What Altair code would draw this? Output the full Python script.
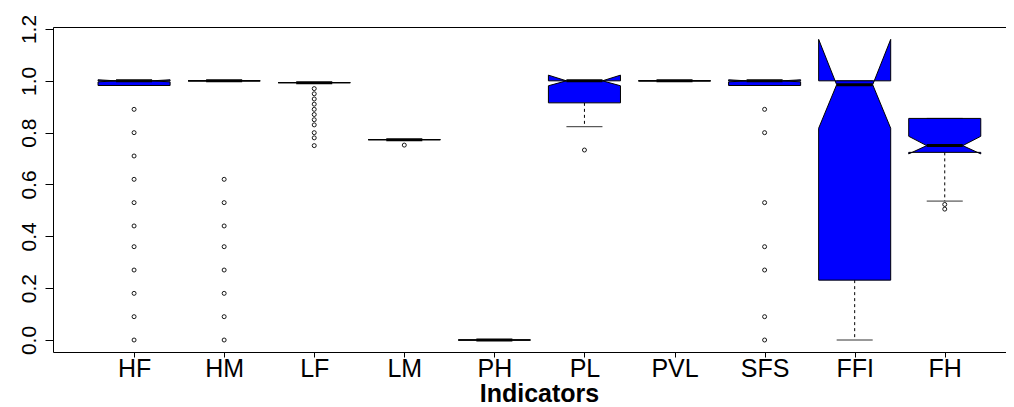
import altair as alt
import pandas as pd

# ---- data ----
names = ["HF", "HM", "LF", "LM", "PH", "PL", "PVL", "SFS", "FFI", "FH"]
q1 = [0.982, 1.0, 0.993, 0.773, 0.0, 0.915, 1.0, 0.982, 0.231, 0.724]
median = [1.0, 1.0, 0.993, 0.773, 0.0, 1.0, 1.0, 1.0, 0.985, 0.75]
q3 = [1.0, 1.0, 0.993, 0.773, 0.0, 1.0, 1.0, 1.0, 1.0, 0.855]
whisk_lo = [0.982, 1.0, 0.993, 0.773, 0.0, 0.823, 1.0, 0.982, 0.0, 0.536]
whisk_hi = [1.0, 1.0, 0.993, 0.773, 0.0, 1.0, 1.0, 1.0, 1.0, 0.855]
notch_lo = [0.996, 1.0, 0.993, 0.773, 0.0, 0.981, 1.0, 0.996, 0.817, 0.718]
notch_hi = [1.004, 1.0, 0.993, 0.773, 0.0, 1.022, 1.0, 1.004, 1.16, 0.786]
outliers = {
    "HF": [0.89, 0.80, 0.71, 0.62, 0.53, 0.44, 0.36, 0.27, 0.18, 0.09, 0.0],
    "HM": [0.62, 0.53, 0.44, 0.36, 0.27, 0.18, 0.09, 0.0],
    "LF": [0.97, 0.95, 0.93, 0.91, 0.89, 0.87, 0.85, 0.83, 0.80, 0.78, 0.75],
    "LM": [0.752],
    "PL": [0.733],
    "SFS": [0.89, 0.80, 0.53, 0.36, 0.27, 0.09, 0.0],
    "FH": [0.523, 0.505],
}
y_ticks = [0.0, 0.2, 0.4, 0.6, 0.8, 1.0, 1.2]

# ---- box geometry (R bxp style) ----
half = 0.4      # half box width
nfrac = 0.5     # notch fraction
staple = 0.2

poly_rows, med_rows, wh_rows, st_rows, out_rows = [], [], [], [], []
for i, n in enumerate(names):
    p = i + 1
    xs = [-1, 1, 1, nfrac, 1, 1, -1, -1, -nfrac, -1, -1]
    ys = [q1[i], q1[i], notch_lo[i], median[i], notch_hi[i], q3[i], q3[i],
          notch_hi[i], median[i], notch_lo[i], q1[i]]
    for k, (a, b) in enumerate(zip(xs, ys)):
        poly_rows.append({"name": n, "k": k, "x": p + half * a, "y": b})
    med_rows.append({"name": n, "xa": p - half * nfrac, "xb": p + half * nfrac, "y": median[i]})
    wh_rows.append({"name": n, "x": p, "y": q1[i], "y2": whisk_lo[i]})
    wh_rows.append({"name": n, "x": p, "y": q3[i], "y2": whisk_hi[i]})
    st_rows.append({"name": n, "xa": p - staple, "xb": p + staple, "y": whisk_lo[i]})
    st_rows.append({"name": n, "xa": p - staple, "xb": p + staple, "y": whisk_hi[i]})
    for v in outliers.get(n, []):
        out_rows.append({"name": n, "x": p, "y": v})

poly = pd.DataFrame(poly_rows)
meds = pd.DataFrame(med_rows)
whs = pd.DataFrame(wh_rows)
sts = pd.DataFrame(st_rows)
outs = pd.DataFrame(out_rows)

xscale = alt.Scale(domain=[0.1, 10.68], nice=False, zero=False)
yscale = alt.Scale(domain=[-0.0463, 1.2077], nice=False, zero=False)

label_expr = "[" + ",".join("'%s'" % n for n in names) + "][datum.value - 1]"
FONT = "Liberation Sans"

x_axis = alt.Axis(
    values=list(range(1, len(names) + 1)), labelExpr=label_expr,
    title="Indicators", titleFont=FONT, titleFontSize=25, titleFontWeight="bold",
    titleColor="black", titleBaseline="alphabetic", titleX=486, titleY=49.5,
    titleAnchor="middle",
    labelFont=FONT, labelFontSize=25, labelColor="black", labelBaseline="alphabetic",
    labelPadding=19, tickSize=5, tickColor="black", domainColor="black",
    grid=False, labelOverlap=False, labelFlush=False,
)
y_axis = alt.Axis(
    values=y_ticks, format=".1f", title=None,
    labelFont=FONT, labelFontSize=21, labelColor="black", labelAngle=270,
    labelAlign="center", labelBaseline="alphabetic", labelPadding=10,
    tickSize=8, tickColor="black", domainColor="black", grid=False,
    labelOverlap=False, labelFlush=False,
)
top_axis = alt.Axis(orient="top", labels=False, ticks=False, title=None,
                    domainColor="black", grid=False)

Y = lambda f: alt.Y(f, scale=yscale, axis=y_axis)

whiskers = alt.Chart(whs).mark_rule(color="black", strokeWidth=1, strokeDash=[3, 3]).encode(
    x=alt.X("x:Q", scale=xscale, axis=None),
    y=Y("y:Q"),
    y2="y2:Q",
)
staples = alt.Chart(sts).mark_rule(color="#333333", strokeWidth=1).encode(
    x=alt.X("xa:Q", scale=xscale, axis=None),
    x2="xb:Q",
    y=Y("y:Q"),
)
boxes = alt.Chart(poly).mark_line(fill="#0000FF", stroke="black", strokeWidth=1,
                                  interpolate="linear", strokeJoin="miter").encode(
    x=alt.X("x:Q", scale=xscale, axis=x_axis),
    y=Y("y:Q"),
    order=alt.Order("k:Q"),
    detail="name:N",
)
medians = alt.Chart(meds).mark_rule(color="black", strokeWidth=3, strokeCap="butt").encode(
    x=alt.X("xa:Q", scale=xscale, axis=top_axis),
    x2="xb:Q",
    y=Y("y:Q"),
)
points = alt.Chart(outs).mark_point(shape="circle", filled=False, color="black",
                                    size=16, strokeWidth=0.9, opacity=1).encode(
    x=alt.X("x:Q", scale=xscale, axis=None),
    y=Y("y:Q"),
)

chart = alt.layer(whiskers, staples, boxes, medians, points).resolve_axis(
    x="independent"
).properties(
    width=953, height=325,
    autosize=alt.AutoSizeParams(type="none"),
    padding={"left": 45, "top": 19, "right": 0, "bottom": 55},
    background="white",
).configure_view(stroke=None)

chart.save("out.html", embed_options={"renderer": "svg", "actions": False})
